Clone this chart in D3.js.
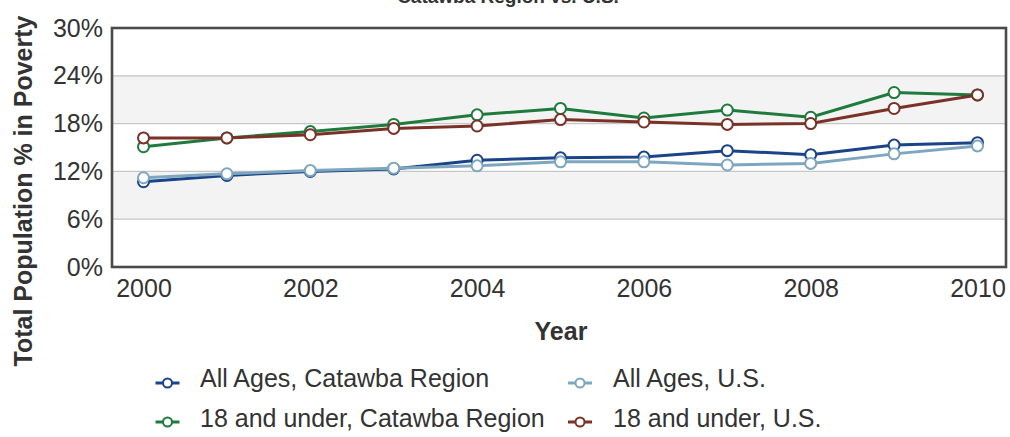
<!DOCTYPE html>
<html>
<head>
<meta charset="utf-8">
<script src="https://cdn.jsdelivr.net/npm/d3@7"></script>
<style>
  html, body { margin: 0; padding: 0; background: #fff; }
  svg { display: block; font-family: "Liberation Sans", Arial, Helvetica, sans-serif; }
</style>
</head>
<body>
<svg id="chart" width="1010" height="437"></svg>
<script>
const years = [2000, 2001, 2002, 2003, 2004, 2005, 2006, 2007, 2008, 2009, 2010];
const allAgesCatawba = [10.7, 11.5, 12.0, 12.3, 13.4, 13.7, 13.8, 14.6, 14.1, 15.3, 15.6];
const allAgesUS = [11.2, 11.7, 12.1, 12.4, 12.7, 13.2, 13.2, 12.8, 13.0, 14.2, 15.2];
const under18Catawba = [15.1, 16.2, 17.0, 17.9, 19.1, 19.9, 18.7, 19.7, 18.8, 21.9, 21.6];
const under18US = [16.2, 16.2, 16.6, 17.4, 17.7, 18.5, 18.2, 17.9, 18.0, 19.9, 21.6];
const yTicks = [0, 6, 12, 18, 24, 30];
const xTicks = [2000, 2002, 2004, 2006, 2008, 2010];
const seriesNames = ["All Ages, Catawba Region", "All Ages, U.S.", "18 and under, Catawba Region", "18 and under, U.S."];
const seriesColors = ["#1a4388", "#7ea6bf", "#1f7a3d", "#7a3127"];
const titleText = "Catawba Region vs. U.S.";
const yLabel = "Total Population % in Poverty";
const xLabel = "Year";

const series = [allAgesCatawba, allAgesUS, under18Catawba, under18US].map((vals, i) => ({
  name: seriesNames[i], color: seriesColors[i], values: vals.map((v, j) => ({ x: years[j], y: v }))
}));

const svg = d3.select("#chart");
const plot = { left: 112, top: 28, right: 1006, bottom: 267 };

const x = d3.scaleLinear().domain([2000, 2010]).range([143.5, 977.5]);
const y = d3.scaleLinear().domain([0, 30]).range([plot.bottom, plot.top]);

// Title (partially cut off at top, as in the reference)
svg.append("text")
  .attr("x", 508).attr("y", 3)
  .attr("text-anchor", "middle")
  .attr("font-size", 19).attr("font-weight", "bold").attr("fill", "#333")
  .text(titleText);

// Alternating bands
for (let i = 0; i < yTicks.length - 1; i++) {
  svg.append("rect")
    .attr("x", plot.left).attr("width", plot.right - plot.left)
    .attr("y", y(yTicks[i + 1])).attr("height", y(yTicks[i]) - y(yTicks[i + 1]))
    .attr("fill", i % 2 === 1 ? "#f3f3f3" : "#ffffff");
}

// Grid lines
svg.append("g").selectAll("line")
  .data(yTicks.slice(1, -1))
  .join("line")
  .attr("x1", plot.left).attr("x2", plot.right)
  .attr("y1", d => y(d)).attr("y2", d => y(d))
  .attr("stroke", "#c6c6c6").attr("stroke-width", 1.2);

// Y axis labels
const yAxis = d3.axisLeft(y).tickValues(yTicks).tickFormat(d => d + "%").tickSize(0).tickPadding(9);
const gy = svg.append("g").attr("transform", `translate(${plot.left},0)`).call(yAxis);
gy.select(".domain").remove();
gy.selectAll("text").attr("font-size", 25).attr("fill", "#333").attr("font-family", "Liberation Sans, Arial, sans-serif");

// X axis labels
const xAxis = d3.axisBottom(x).tickValues(xTicks).tickFormat(d3.format("d")).tickSize(0).tickPadding(12);
const gx = svg.append("g").attr("transform", `translate(0,${plot.bottom})`).call(xAxis);
gx.select(".domain").remove();
gx.selectAll("text").attr("font-size", 25).attr("fill", "#333").attr("font-family", "Liberation Sans, Arial, sans-serif");

// Frame
svg.append("rect")
  .attr("x", plot.left).attr("y", plot.top)
  .attr("width", plot.right - plot.left).attr("height", plot.bottom - plot.top)
  .attr("fill", "none").attr("stroke", "#4a4a4a").attr("stroke-width", 2.6);

// Lines + markers, series in natural order
const line = d3.line().x(d => x(d.x)).y(d => y(d.y));
series.forEach(s => {
  svg.append("path").datum(s.values)
    .attr("d", line).attr("fill", "none")
    .attr("stroke", s.color).attr("stroke-width", 3);
  svg.append("g").selectAll("circle").data(s.values).join("circle")
    .attr("cx", d => x(d.x)).attr("cy", d => y(d.y)).attr("r", 5.5)
    .attr("fill", "#fff").attr("stroke", s.color).attr("stroke-width", 2);
});

// Axis titles
svg.append("text")
  .attr("transform", `translate(32,191) rotate(-90)`)
  .attr("text-anchor", "middle")
  .attr("font-size", 25).attr("font-weight", "bold").attr("fill", "#333")
  .text(yLabel);

svg.append("text")
  .attr("x", 561).attr("y", 340)
  .attr("text-anchor", "middle")
  .attr("font-size", 25).attr("font-weight", "bold").attr("fill", "#333")
  .text(xLabel);

// Legend
const legendPos = [
  { cx: 167.5, cy: 383, tx: 200, ty: 387 },
  { cx: 580, cy: 383, tx: 613, ty: 387 },
  { cx: 167.5, cy: 422, tx: 200, ty: 427 },
  { cx: 580, cy: 422, tx: 613, ty: 427 }
];
series.forEach((s, i) => {
  const p = legendPos[i];
  const g = svg.append("g");
  g.append("line").attr("x1", p.cx - 12).attr("x2", p.cx + 12)
    .attr("y1", p.cy).attr("y2", p.cy)
    .attr("stroke", s.color).attr("stroke-width", 3);
  g.append("circle").attr("cx", p.cx).attr("cy", p.cy).attr("r", 4.5)
    .attr("fill", "#fff").attr("stroke", s.color).attr("stroke-width", 2);
  g.append("text").attr("x", p.tx).attr("y", p.ty)
    .attr("font-size", 25).attr("fill", "#333")
    .text(s.name);
});
</script>
</body>
</html>
